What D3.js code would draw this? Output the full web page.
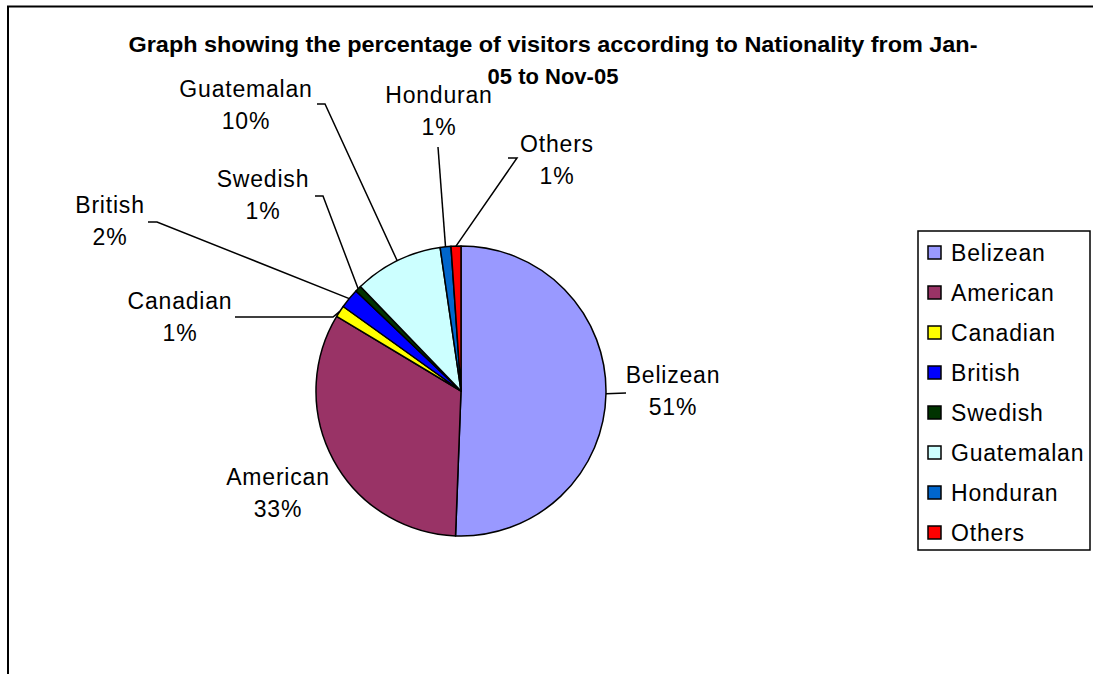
<!DOCTYPE html>
<html>
<head>
<meta charset="utf-8">
<script src="https://cdn.jsdelivr.net/npm/d3@7"></script>
<style>
  html, body { margin: 0; padding: 0; background: #fff; }
  svg { display: block; font-family: "Liberation Sans", Arial, sans-serif; }
</style>
</head>
<body>
<svg id="chart" width="1093" height="674"></svg>
<script>
// ---- data ----
const categories = ["Belizean", "American", "Canadian", "British", "Swedish", "Guatemalan", "Honduran", "Others"];
const values = [50.6, 33.0, 1.3, 2.2, 0.7, 9.9, 1.2, 1.1];
const colors = ["#9999FF", "#993366", "#FFFF00", "#0000FF", "#003300", "#CCFFFF", "#0066CC", "#FF0000"];
const titleLines = ["Graph showing the percentage of visitors according to Nationality from Jan-", "05 to Nov-05"];

// ---- layout (annotation placement) ----
const W = 1093, H = 674;
const cx = 461, cy = 391, R = 145;
const labelLayout = [
  { x: 673, y: 383, line: [[626, 393]] },
  { x: 278, y: 485, line: null },
  { x: 180, y: 309, line: [[235, 317], [333, 317]] },
  { x: 110, y: 213, line: [[148, 222], [157, 222]] },
  { x: 263, y: 187, line: [[315, 196], [323, 196]] },
  { x: 246, y: 97,  line: [[317, 104], [325, 104]] },
  { x: 439, y: 103, line: [[438, 147]] },
  { x: 557, y: 152, line: [[508, 158], [517, 158]] }
];

const svg = d3.select("#chart");

// outer frame (extends past right / bottom edges)
svg.append("rect")
  .attr("x", 8).attr("y", 6.5)
  .attr("width", W + 20).attr("height", H + 20)
  .attr("fill", "#fff").attr("stroke", "#000").attr("stroke-width", 2);

// title
svg.append("text")
  .attr("x", 553).attr("y", 52)
  .attr("text-anchor", "middle")
  .attr("font-size", 22).attr("font-weight", "bold")
  .attr("textLength", 849).attr("lengthAdjust", "spacingAndGlyphs")
  .text(titleLines[0]);
svg.append("text")
  .attr("x", 553).attr("y", 84)
  .attr("text-anchor", "middle")
  .attr("font-size", 22).attr("font-weight", "bold")
  .text(titleLines[1]);

// pie
const total = d3.sum(values);
const pie = d3.pie().sort(null).value(d => d)(values);
const arc = d3.arc().innerRadius(0).outerRadius(R);
const edgeArc = d3.arc().innerRadius(R).outerRadius(R);
const color = d3.scaleOrdinal().domain(categories).range(colors);

const g = svg.append("g").attr("transform", `translate(${cx},${cy})`);
g.selectAll("path.slice")
  .data(pie)
  .join("path")
  .attr("class", "slice")
  .attr("d", arc)
  .attr("fill", (d, i) => color(categories[i]))
  .attr("stroke", "#000")
  .attr("stroke-width", 1.5)
  .attr("stroke-linejoin", "round");

// leader lines
pie.forEach((d, i) => {
  const L = labelLayout[i];
  if (!L.line) return;
  const c = edgeArc.centroid(d);
  const pts = L.line.concat([[cx + c[0], cy + c[1]]]);
  svg.append("path")
    .attr("d", d3.line()(pts))
    .attr("fill", "none")
    .attr("stroke", "#000")
    .attr("stroke-width", 1.5);
});

// data labels
const labelFont = 23;
const labelSpacing = 0.8;
pie.forEach((d, i) => {
  const L = labelLayout[i];
  const pct = Math.round(values[i] / total * 100) + "%";
  const t = svg.append("text")
    .attr("text-anchor", "middle")
    .attr("font-size", labelFont)
    .attr("letter-spacing", labelSpacing)
    .attr("fill", "#000");
  t.append("tspan").attr("x", L.x).attr("y", L.y).text(categories[i]);
  t.append("tspan").attr("x", L.x).attr("y", L.y + 32).text(pct);
});

// legend
const lg = svg.append("g");
lg.append("rect")
  .attr("x", 918).attr("y", 231)
  .attr("width", 172).attr("height", 319)
  .attr("fill", "#fff").attr("stroke", "#000").attr("stroke-width", 1.5);
const rowY = d3.scalePoint().domain(categories).range([252.5, 532.5]);
categories.forEach((c, i) => {
  const y = rowY(c);
  lg.append("rect")
    .attr("x", 928).attr("y", y - 6.5)
    .attr("width", 13).attr("height", 13)
    .attr("fill", color(c)).attr("stroke", "#000").attr("stroke-width", 1.5);
  lg.append("text")
    .attr("x", 951).attr("y", y + 8.5)
    .attr("font-size", labelFont)
    .attr("letter-spacing", labelSpacing)
    .text(c);
});
</script>
</body>
</html>
